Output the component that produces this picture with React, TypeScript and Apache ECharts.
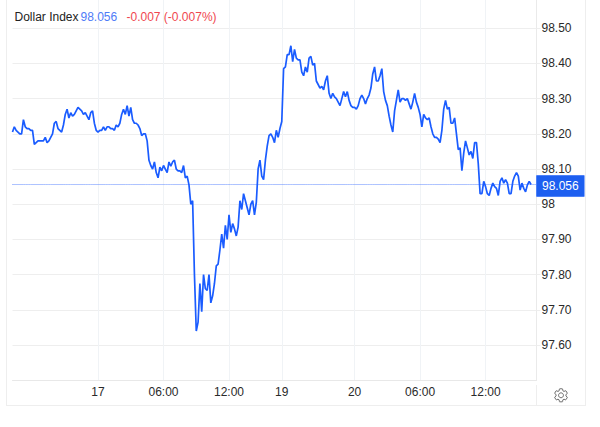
import React, { useEffect, useRef } from "react";
import * as echarts from "echarts";

const seriesName = "Dollar Index";
const lastValue = 98.056;
const lastText = "98.056";
const changeText = "-0.007 (-0.007%)";

const slotCount = 289;
const tickSlots = [47, 83, 119, 148, 188, 224, 260];
const tickLabels = ["17", "06:00", "12:00", "19", "20", "06:00", "12:00"];

const dayOneValues = [
  98.205, 98.22, 98.21, 98.205, 98.2, 98.2, 98.24, 98.22, 98.215, 98.215, 98.21, 98.21, 98.17, 98.175, 98.18, 98.18,
  98.18, 98.18, 98.19, 98.175, 98.18, 98.19, 98.2, 98.23, 98.235, 98.215, 98.21, 98.205, 98.225, 98.255, 98.27, 98.245,
  98.26, 98.25, 98.255, 98.265, 98.275, 98.27, 98.265, 98.255, 98.26, 98.25, 98.24, 98.26, 98.265, 98.23, 98.21, 98.205,
  98.21, 98.21, 98.22, 98.21, 98.22, 98.22, 98.215, 98.215, 98.21, 98.225, 98.22, 98.23, 98.255, 98.27, 98.255, 98.28,
  98.25, 98.275, 98.24, 98.23, 98.23, 98.225, 98.215, 98.195, 98.2, 98.2, 98.18, 98.125, 98.11, 98.1, 98.12, 98.09,
  98.075, 98.105, 98.095, 98.11, 98.1, 98.09, 98.12, 98.108, 98.12, 98.125, 98.1, 98.095, 98.095, 98.09, 98.11, 98.075,
  98.08, 98.055, 98.0, 98.01,
];
const dropAndReboundValues = [
  97.8, 97.64, 97.665, 97.775, 97.695, 97.8, 97.76, 97.755, 97.8, 97.72, 97.74, 97.775, 97.825, 97.83, 97.87, 97.915,
  97.875, 97.94, 97.9, 97.97, 97.92, 97.945, 97.93, 97.91, 97.935, 98.01, 97.985, 98.03, 98.01, 97.99, 97.97, 98.0,
  98.01, 97.97, 98.005, 98.1, 98.125, 98.08, 98.07, 98.125, 98.165, 98.195, 98.2, 98.19, 98.175, 98.21, 98.19, 98.215,
  98.235,
];
const dayTwoValues = [
  98.385, 98.39, 98.425, 98.425, 98.45, 98.405, 98.44, 98.415, 98.41, 98.41, 98.375, 98.365, 98.39, 98.375, 98.415, 98.42,
  98.395, 98.4, 98.35, 98.34, 98.33, 98.335, 98.325, 98.35, 98.365, 98.315, 98.3, 98.315, 98.305, 98.3, 98.29, 98.28,
  98.3, 98.32, 98.305, 98.32, 98.295, 98.28, 98.275, 98.275, 98.27, 98.28, 98.3, 98.31, 98.3, 98.285, 98.3, 98.31,
  98.33, 98.37, 98.39, 98.35, 98.35, 98.365, 98.385, 98.32, 98.295, 98.28, 98.25, 98.225, 98.205, 98.265, 98.295, 98.325,
  98.29, 98.3, 98.3, 98.295, 98.3, 98.285, 98.27, 98.29, 98.315, 98.29, 98.275, 98.255, 98.22, 98.255, 98.245, 98.24,
  98.245, 98.22, 98.2, 98.19, 98.19, 98.185, 98.175, 98.21, 98.27, 98.295, 98.27, 98.275, 98.23, 98.23, 98.245, 98.2,
  98.155, 98.16, 98.095, 98.145, 98.18, 98.16, 98.14, 98.15, 98.13, 98.175, 98.175, 98.115, 98.03, 98.03, 98.065, 98.05,
  98.03, 98.025, 98.045, 98.06, 98.05, 98.045, 98.025, 98.065, 98.075, 98.06, 98.07, 98.06, 98.03, 98.03, 98.065, 98.08,
  98.09, 98.08, 98.04, 98.06, 98.045, 98.035, 98.055, 98.065, 98.056,
];

const priceValues = [...dayOneValues, ...dropAndReboundValues, ...dayTwoValues];
const lastPriceLine = Array.from({ length: slotCount }, () => lastValue);
const categories = Array.from({ length: slotCount }, (_, i) => {
  const t = tickSlots.indexOf(i);
  return t >= 0 ? tickLabels[t] : "";
});

const gearPath =
  "M19.14 12.94c.04-.3.06-.61.06-.94 0-.32-.02-.64-.07-.94l2.03-1.58c.18-.14.23-.41.12-.61l-1.92-3.32c-.12-.22-.37-.29-.59-.22l-2.39.96c-.5-.38-1.03-.7-1.62-.94l-.36-2.54c-.04-.24-.24-.41-.48-.41h-3.84c-.24 0-.43.17-.47.41l-.36 2.54c-.59.24-1.13.57-1.62.94l-2.39-.96c-.22-.08-.47 0-.59.22L2.74 8.87c-.12.21-.08.47.12.61l2.03 1.58c-.05.3-.09.63-.09.94s.02.64.07.94l-2.03 1.58c-.18.14-.23.41-.12.61l1.92 3.32c.12.22.37.29.59.22l2.39-.96c.5.38 1.03.7 1.62.94l.36 2.54c.05.24.24.41.48.41h3.84c.24 0 .44-.17.47-.41l.36-2.54c.59-.24 1.13-.56 1.62-.94l2.39.96c.22.08.47 0 .59-.22l1.92-3.32c.12-.22.07-.47-.12-.61l-2.01-1.58zM12 15.6c-1.98 0-3.6-1.62-3.6-3.6s1.62-3.6 3.6-3.6 3.6 1.62 3.6 3.6-1.62 3.6-3.6 3.6z";
echarts.graphic.registerShape("gear", echarts.graphic.extendPath(gearPath, {}) as any);

const FONT = "Arial, 'Liberation Sans', sans-serif";
const BORDER = "#eeeeee";

export default function App() {
  const ref = useRef<HTMLDivElement>(null);
  useEffect(() => {
    document.body.style.margin = "0";
    const chart = echarts.init(ref.current!, undefined, { renderer: "svg" });
    const headerText = (text: string, x: number, fill: string) => ({
      type: "text",
      x,
      y: 16.5,
      style: { text, fill, font: `12px ${FONT}`, textVerticalAlign: "middle" },
      z: 10,
    });
    const border = (x1: number, y1: number, x2: number, y2: number) => ({
      type: "line",
      shape: { x1, y1, x2, y2 },
      style: { stroke: BORDER, lineWidth: 1 },
      silent: true,
    });
    chart.setOption({
      animation: false,
      backgroundColor: "#ffffff",
      grid: { left: 12.5, right: 600 - 536.5, top: 0, bottom: 427 - 380.3, containLabel: false },
      xAxis: {
        type: "category",
        data: categories,
        boundaryGap: false,
        axisLine: { show: true, lineStyle: { color: "#e8e8e8", width: 1 } },
        axisTick: { show: false },
        axisLabel: {
          show: true,
          interval: (_: number, v: string) => v !== "",
          color: "#2a2a2a",
          fontFamily: FONT,
          fontSize: 12,
          margin: 6,
          hideOverlap: false,
        },
        splitLine: {
          show: true,
          interval: (_: number, v: string) => v !== "",
          lineStyle: { color: "#f0f3f6", width: 1 },
        },
      },
      yAxis: {
        type: "value",
        position: "right",
        min: 97.5,
        max: 98.58,
        interval: 0.1,
        axisLine: { show: true, lineStyle: { color: "#eaeaea", width: 1 } },
        axisTick: { show: true, length: 4, lineStyle: { color: "#eeeeee" } },
        axisLabel: {
          color: "#2a2a2a",
          fontFamily: FONT,
          fontSize: 12,
          margin: 5,
          padding: [0, 0, 2, 0],
          showMinLabel: false,
          showMaxLabel: false,
          formatter: (v: number) => (Math.abs(v - 98) < 1e-6 ? "98" : v.toFixed(2)),
        },
        splitLine: { show: true, showMinLine: false, showMaxLine: false, lineStyle: { color: "#eeeeee", width: 1 } },
      },
      series: [
        {
          name: "Last price",
          type: "line",
          data: lastPriceLine,
          showSymbol: false,
          symbol: "none",
          silent: true,
          z: 1,
          lineStyle: { color: "#5a86ff", type: [1, 1], width: 1 },
          endLabel: {
            show: true,
            distance: 0,
            formatter: lastText,
            color: "#ffffff",
            fontFamily: FONT,
            fontSize: 12,
            backgroundColor: "#1d5ff0",
            borderColor: "#7fa3ff",
            borderWidth: 0.5,
            padding: [5, 5.5, 4, 5.5],
            offset: [0, 1.5],
          },
        },
        {
          name: seriesName,
          type: "line",
          data: priceValues,
          showSymbol: false,
          symbol: "none",
          z: 2,
          lineStyle: { color: "#1a5cff", width: 1.7 },
        },
      ],
      graphic: [
        border(6.5, 0, 6.5, 405),
        border(585.5, 0, 585.5, 405),
        border(6, 405.5, 586, 405.5),
        border(536.5, 385, 536.5, 405),
        headerText(seriesName, 14.5, "#222222"),
        headerText(lastText, 80.5, "#4f7cf7"),
        headerText(changeText, 126.5, "#f0474f"),
        {
          type: "gear",
          x: 561 - 12 * 0.68,
          y: 395.3 - 12 * 0.68,
          scaleX: 0.68,
          scaleY: 0.68,
          style: { fill: "none", stroke: "#666666", lineWidth: 1.4 },
          silent: true,
        },
      ],
    });
    return () => chart.dispose();
  }, []);
  return <div ref={ref} style={{ width: 600, height: 427 }} />;
}
